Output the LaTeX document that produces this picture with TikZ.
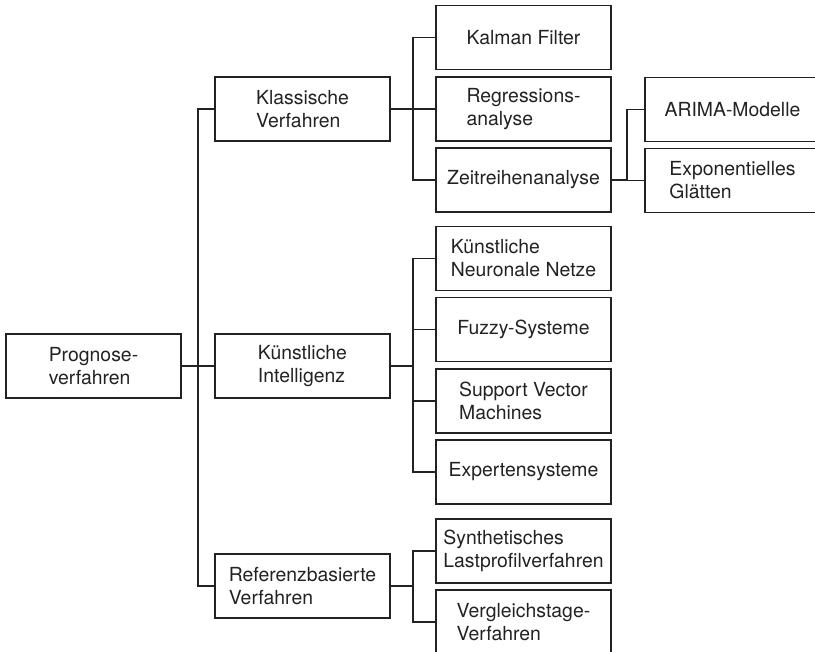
\documentclass[tikz,border=0pt]{standalone}
\usepackage{fontspec}
\setmainfont{TeX Gyre Heros}
\definecolor{ink}{HTML}{222222}
\begin{document}
\begin{tikzpicture}[x=1pt,y=-1pt,
	box/.style={draw=ink,line width=1.3pt,minimum width=175pt,minimum height=64pt,inner sep=0pt,align=left,text=ink,font=\fontsize{19.4}{23}\selectfont},
	link/.style={draw=ink,line width=1.2pt}]
	\useasboundingbox (0,0) rectangle (815,652);
	% Wurzel und erste Ebene
	\node[box] (prog) at (93.5,366) {Prognose-\\verfahren};
	\node[box] (kla) at (302.5,109) {Klassische\\Verfahren};
	\node[box] (ki) at (302.5,366) {Künstliche\\Intelligenz};
	\node[box] (ref) at (302.5,586) {Referenzbasierte\\Verfahren};
	% zweite Ebene
	\node[box] (kal) at (523.5,37.5) {Kalman Filter};
	\node[box] (reg) at (523.5,109) {Regressions-\\analyse};
	\node[box] (zeit) at (523.5,180) {Zeitreihenanalyse};
	\node[box] (knn) at (523.5,258.5) {Künstliche\\Neuronale Netze};
	\node[box] (fuz) at (523.5,329.5) {Fuzzy-Systeme};
	\node[box] (svm) at (523.5,401) {Support Vector\\Machines};
	\node[box] (exs) at (523.5,472) {Expertensysteme};
	\node[box] (syn) at (523.5,551) {Synthetisches\\Lastprofilverfahren};
	\node[box] (vgl) at (523.5,622) {Vergleichstage-\\Verfahren};
	% dritte Ebene
	\node[box] (ari) at (732.5,109.5) {ARIMA-Modelle};
	\node[box] (glae) at (732.5,180.5) {Exponentielles\\Glätten};
	% Verzweigungen
	\coordinate (j0) at (198,366);
	\coordinate (j1) at (413,109);
	\coordinate (j2) at (413,366);
	\coordinate (j3) at (413,586);
	\coordinate (j4) at (627,180);
	\draw[link] (prog.east) -- (j0);
	\foreach \n in {kla,ki,ref} \draw[link] (j0) |- (\n.west);
	\draw[link] (kla.east) -- (j1);
	\foreach \n in {kal,reg,zeit} \draw[link] (j1) |- (\n.west);
	\draw[link] (ki.east) -- (j2);
	\foreach \n in {knn,fuz,svm,exs} \draw[link] (j2) |- (\n.west);
	\draw[link] (ref.east) -- (j3);
	\foreach \n in {syn,vgl} \draw[link] (j3) |- (\n.west);
	\draw[link] (zeit.east) -- (j4);
	\foreach \n in {ari,glae} \draw[link] (j4) |- (\n.west);
\end{tikzpicture}
\end{document}
